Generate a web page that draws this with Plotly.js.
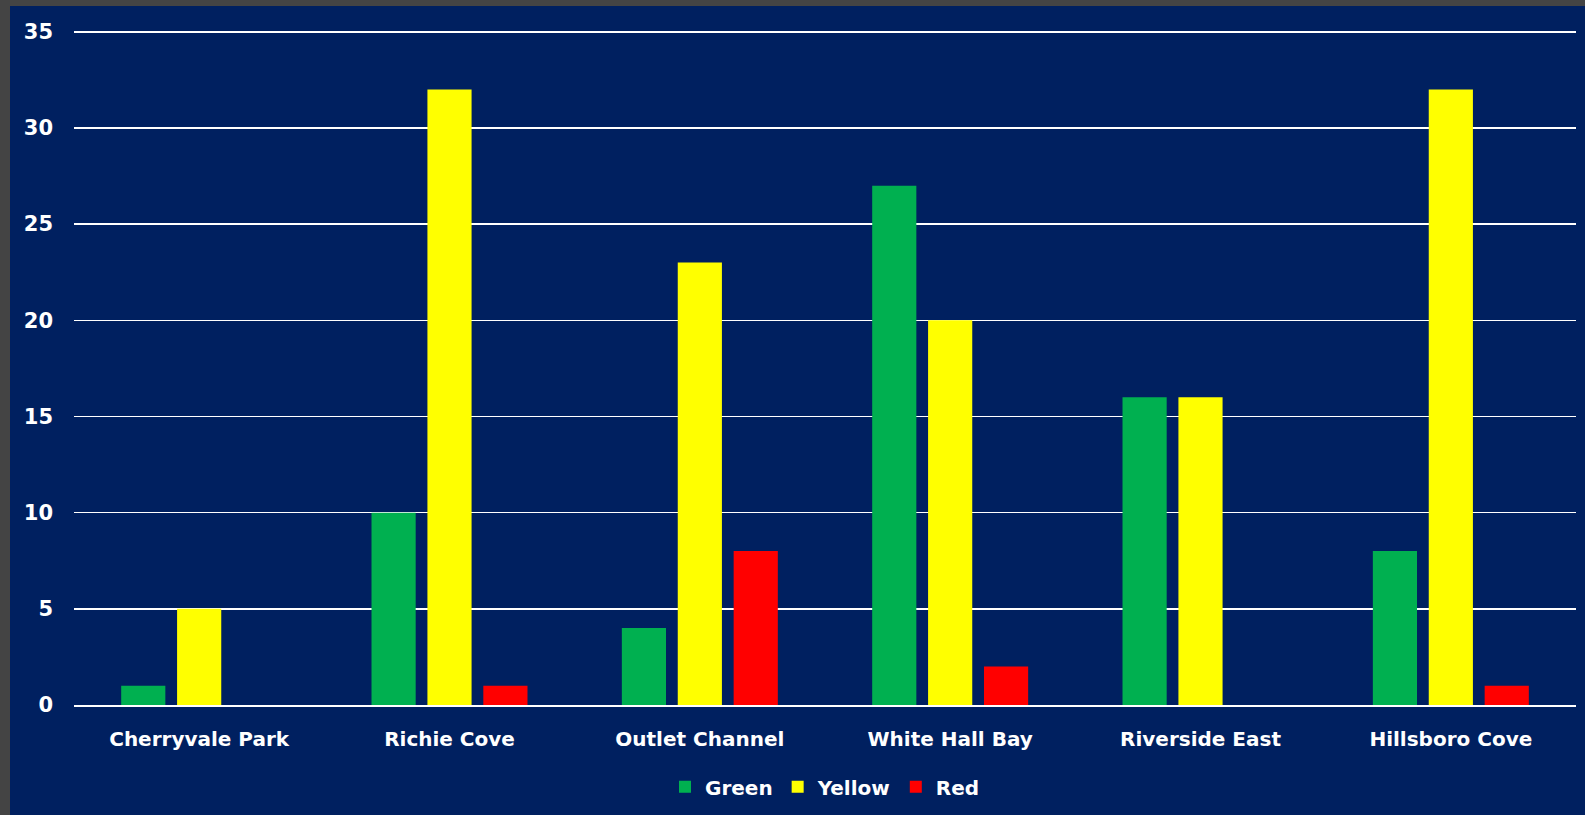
<!DOCTYPE html>
<html>
<head>
<meta charset="utf-8">
<script src="https://cdn.plot.ly/plotly-3.0.1.min.js"></script>
<style>
  html, body { margin: 0; padding: 0; background: #444444; width: 1585px; height: 815px; overflow: hidden; }
  #chart { position: absolute; left: 10px; top: 6px; width: 1575px; height: 809px; }
</style>
</head>
<body>
<div id="chart"></div>
<script>
const categories = ["Cherryvale Park", "Richie Cove", "Outlet Channel", "White Hall Bay", "Riverside East", "Hillsboro Cove"];
const greenValues = [1, 10, 4, 27, 16, 8];
const yellowValues = [5, 32, 23, 20, 16, 32];
const redValues = [null, 1, 8, 2, null, 1];
const yTicks = [0, 5, 10, 15, 20, 25, 30, 35];

const fontFamily = "'Century Gothic', 'DejaVu Sans', sans-serif";

const traces = [
  { type: "bar", name: "Green", x: categories, y: greenValues, marker: { color: "#00B050" } },
  { type: "bar", name: "Yellow", x: categories, y: yellowValues, marker: { color: "#FFFF00" } },
  { type: "bar", name: "Red", x: categories, y: redValues, marker: { color: "#FF0000" } }
];

const layout = {
  width: 1575,
  height: 809,
  paper_bgcolor: "#002060",
  plot_bgcolor: "#002060",
  margin: { l: 64, r: 9, t: 20, b: 110, autoexpand: false },
  barmode: "group",
  bargap: 0.33,
  bargroupgap: 0.21,
  showlegend: true,
  legend: {
    orientation: "h",
    xref: "paper",
    yref: "container",
    x: 0.5, xanchor: "center",
    y: 0.059, yanchor: "top",
    font: { family: fontFamily, size: 20, color: "#FFFFFF", weight: "bold" },
    itemwidth: 30,
    traceorder: "normal"
  },
  xaxis: {
    type: "category",
    showgrid: false,
    showline: true,
    linecolor: "#FFFFFF",
    linewidth: 2,
    ticks: "",
    ticklabelstandoff: 15,
    tickfont: { family: fontFamily, size: 20, color: "#FFFFFF", weight: "bold" },
    fixedrange: true
  },
  yaxis: {
    range: [0, 35.3],
    tickvals: yTicks,
    ticktext: yTicks.map(String),
    showgrid: true,
    gridcolor: "#FFFFFF",
    gridwidth: 1.5,
    zeroline: false,
    showline: false,
    ticks: "",
    ticklabelstandoff: 20,
    tickfont: { family: fontFamily, size: 21, color: "#FFFFFF", weight: "bold" },
    fixedrange: true
  }
};

Plotly.newPlot("chart", traces, layout, { displayModeBar: false, staticPlot: true });
</script>
</body>
</html>
